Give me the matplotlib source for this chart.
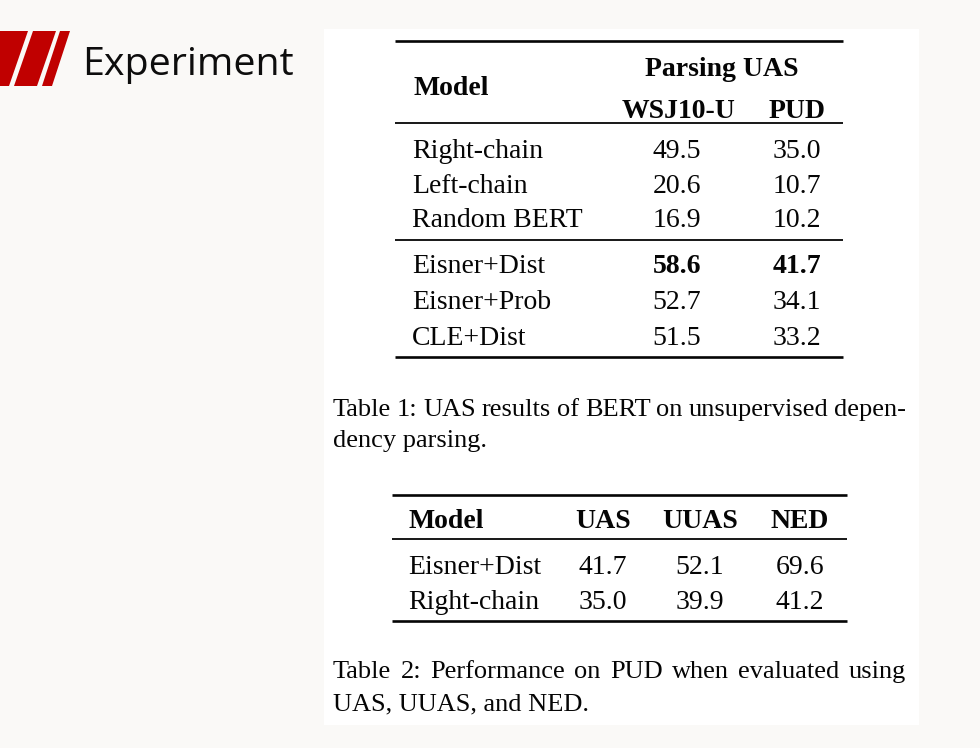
import matplotlib
matplotlib.use("Agg")
import matplotlib.pyplot as plt
from matplotlib.patches import Polygon, Rectangle

# table 1 data
t1_models = ["Right-chain", "Left-chain", "Random BERT", "Eisner+Dist", "Eisner+Prob", "CLE+Dist"]
t1_wsj = [49.5, 20.6, 16.9, 58.6, 52.7, 51.5]
t1_pud = [35.0, 10.7, 10.2, 41.7, 34.1, 33.2]

# table 2 data
t2_cols = ["UAS", "UUAS", "NED"]
t2_models = ["Eisner+Dist", "Right-chain"]
t2_uas = [41.7, 35.0]
t2_uuas = [52.1, 39.9]
t2_ned = [69.6, 41.2]

title = "Experiment"
cap1 = ["Table 1: UAS results of BERT on unsupervised depen-", "dency parsing."]
cap2 = ["Table 2: Performance on PUD when evaluated using", "UAS, UUAS, and NED."]

W, H = 980, 748
fig = plt.figure(figsize=(W / 100, H / 100), dpi=100)
fig.patch.set_facecolor("#faf9f7")
ax = fig.add_axes([0, 0, 1, 1])
ax.set_xlim(0, W)
ax.set_ylim(H, 0)
ax.axis("off")

serif = "Liberation Serif"
tsize = 20
csize = 19
ink = "#050505"

# slide header: red slashes + title
red = "#c00000"
for pts in ([(0, 31), (28, 31), (9, 86), (0, 86)],
            [(33, 31), (56, 31), (37, 86), (14, 86)],
            [(60, 31), (70, 31), (52, 86), (42, 86)]):
    ax.add_patch(Polygon(pts, closed=True, color=red, lw=0))
ax.text(82, 75, title, fontsize=28.4, family="Open Sans", color="#0d0d0d", va="baseline")

# white paper snippet
ax.add_patch(Rectangle((324, 29), 595, 696, color="white", lw=0))


def rule(x0, x1, y, lw):
    ax.plot([x0, x1], [y, y], color=ink, lw=lw, solid_capstyle="butt")


def justify(line, x0, x1, y, size):
    words = line.split()
    txts = [ax.text(0, y, w, fontsize=size, family=serif, color=ink, va="baseline") for w in words]
    r = fig.canvas.get_renderer()
    widths = [t.get_window_extent(r).width for t in txts]
    gap = (x1 - x0 - sum(widths)) / (len(words) - 1)
    x = x0
    for t, w in zip(txts, widths):
        t.set_x(x)
        x += w + gap


# ---- table 1 ----
rule(395, 843, 41, 1.9)
rule(395, 843, 123, 1.3)
rule(395, 843, 240, 1.3)
rule(395, 843, 357, 1.9)

ax.text(413, 95, "Model", fontsize=tsize, family=serif, weight="bold", color=ink, va="baseline")
ax.text(722, 76, "Parsing UAS", fontsize=tsize, family=serif, weight="bold", color=ink, va="baseline", ha="center")
ax.text(679, 118, "WSJ10-U", fontsize=tsize, family=serif, weight="bold", color=ink, va="baseline", ha="center")
ax.text(797, 118, "PUD", fontsize=tsize, family=serif, weight="bold", color=ink, va="baseline", ha="center")

rows_y = [158, 193, 227, 273, 309, 345]
for i, m in enumerate(t1_models):
    y = rows_y[i]
    ax.text(412, y, m, fontsize=tsize, family=serif, color=ink, va="baseline")
    for xc, col in ((677, t1_wsj), (797, t1_pud)):
        wt = "bold" if col[i] == max(col) else "normal"
        ax.text(xc, y, f"{col[i]:.1f}", fontsize=tsize, family=serif, weight=wt,
                color=ink, va="baseline", ha="center")

justify(cap1[0], 333, 906, 416, csize)
ax.text(333, 447, cap1[1], fontsize=csize, family=serif, color=ink, va="baseline")

# ---- table 2 ----
rule(392, 847, 495, 1.9)
rule(392, 847, 539, 1.3)
rule(392, 847, 621, 1.9)

col_x = [603, 700, 800]
ax.text(408, 528, "Model", fontsize=tsize, family=serif, weight="bold", color=ink, va="baseline")
for xc, c in zip(col_x, t2_cols):
    ax.text(xc, 528, c, fontsize=tsize, family=serif, weight="bold", color=ink, va="baseline", ha="center")

rows2_y = [574, 609]
for i, m in enumerate(t2_models):
    y = rows2_y[i]
    ax.text(408, y, m, fontsize=tsize, family=serif, color=ink, va="baseline")
    for xc, col in zip(col_x, (t2_uas, t2_uuas, t2_ned)):
        ax.text(xc, y, f"{col[i]:.1f}", fontsize=tsize, family=serif, color=ink, va="baseline", ha="center")

justify(cap2[0], 333, 906, 678, csize)
ax.text(333, 710, cap2[1], fontsize=csize, family=serif, color=ink, va="baseline")

fig.savefig("out.png", dpi=100, facecolor=fig.get_facecolor())
